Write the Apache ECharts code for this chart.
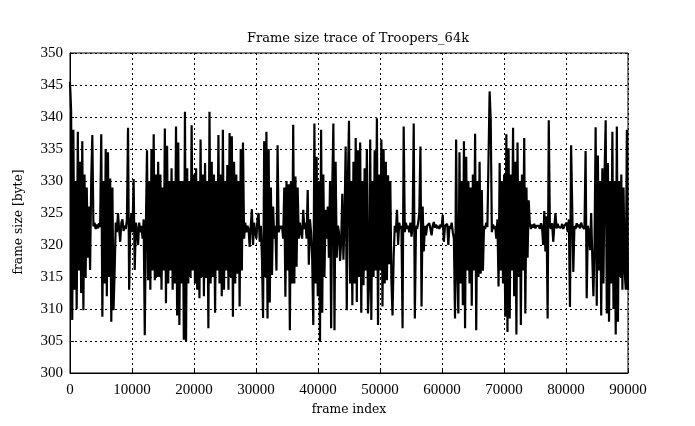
<!DOCTYPE html>
<html>
<head>
<meta charset="utf-8">
<script src="https://cdn.jsdelivr.net/npm/echarts@6/dist/echarts.min.js"></script>
<style>
html,body{margin:0;padding:0;background:#fff;}
#chart{width:695px;height:426px;}
</style>
</head>
<body>
<div id="chart"></div>
<script>
// Frame size samples (bytes), one value every frameStep frames
const frameStep = 180;
const frameSize = [
345.5,341,308.3,338,313,330,310,337.7,316,333,
312.5,336.2,309.8,331,315,329,318,326,316.1,330,
337.2,322.9,323.5,322.5,323.2,322.6,323.4,322.8,337.3,308.8,
330,314,335,312,334.5,315,330.4,308,329,309.8,
316,323.5,322,325,322.5,320.5,323.5,324,322.2,323,
322.5,324,338.3,313,323,325,322,330.3,316.1,323.5,
322.5,320,323.5,322,323,321,324,305.9,323,334.8,
314.5,330,313,335,316,337.3,314.5,331,315,333,
315,331,313,329,316,338.2,310.9,335.5,314,330,
316,332,313,330,314,338.5,309,336,307.5,330,
314,330,305.2,340.8,305,332,314,330,315,338.7,
316,331,314,332,313,330,311.7,336.5,315,331,
312,332.8,315,330,307,340.8,314,333,315,331,
309.4,330,316,337.2,314,331,312,338,313,330,
316,332.5,313,337.5,315,337,308.8,333,314,331,
315.5,330,310.4,335,316,336,321,323.5,322,323,
322.5,319.7,323,325.6,320,323.5,322,321,324,325,
320.5,323,318,308.6,336.2,315,337.7,308.5,335,311,
329,315.3,326,321,323,316,335.6,322,323,322.5,
323,321,329,311.9,330,316,329.5,306.7,330,314,
338.8,314,330.7,316.6,329,321,323.5,322,321,325.5,
322.5,323.5,321,328.6,316.9,324,322,318,307.5,339,
314,333.8,312,330,304.9,338,309.4,331,315,325.5,
321,326,318,330,307,329,339,306.7,333,318,
323,322,317.5,320.5,328,317.7,324,335.4,309.8,330,
339.4,314,330,310.6,333,314,336.7,311.1,334.8,315,
336,309.4,330,313.7,332,316,335,309.3,314,336.5,
308.3,330,315,334.8,316,339.8,307.5,331,316,336.5,
310.4,335,314,333,314.5,330.9,317,330,314.5,309,
318,323,322,325.5,320,323.5,322.5,323,307,338.5,
322,323.5,322.5,323,322,323.5,321.3,323,339,308.5,
323,322.5,323.5,325,335.4,310.4,326,319,323,321.5,
323,322.8,323.4,322.5,321.5,323,323.6,322.7,323.2,322.6,
323,322.5,323.2,322.8,324.7,320.5,323,322.7,323.3,320,
323,322.5,323.5,322,321,308.5,336.5,316,309.3,334.5,
314,330,310.6,336.2,307,333.8,316,330,314,329,
310.5,331,316,337.4,306.7,330,315,333,315.5,328.6,
316,323,322.5,323.5,322.8,323,344,339.5,322,323.2,
322.5,323,321,324,313.5,332.8,316,330,314,331,
308.8,337.3,306.4,335.1,308.5,331,316,338.3,312,333,
306,336,315,330,307.5,331,316,336.7,309.3,329,
318,327,323.5,322.5,323.2,322.7,323.3,322.6,323,322.8,
323,322.5,323.4,322.7,320,325.3,319,324.5,308.5,339.5,
323,322.5,323.4,320.5,323,325,322.6,323.3,322.8,323.1,
322.7,323.3,322.5,323,322.8,323.5,322,324,310.3,335.6,
326,315.8,323,322.5,323.4,322.8,323.2,322.6,323.5,322.9,
323,322.5,334.7,311.7,323,322,319.2,325,318,312,
320,338.4,310.5,334,316,330,309,332,314,331,
339.5,309.3,332.8,308,330,314,337.7,310,330,306,
338.5,308,330,315,331,313,329,316,313,338,
313
];
const titleText = 'Frame size trace of Troopers_64k';
const xName = 'frame index';
const yName = 'frame size [byte]';
const xRange = [0, 90000, 10000];
const yRange = [300, 350, 5];

const seriesData = frameSize.map((v, i) => [i * frameStep, v]);
const textFont = "'DejaVu Serif','Liberation Serif',serif";
const tickFont = "'Liberation Serif','DejaVu Serif',serif";

const chart = echarts.init(document.getElementById('chart'), null, {renderer: 'canvas'});
chart.setOption({
  animation: false,
  backgroundColor: '#fff',
  title: {
    text: titleText,
    left: 353, top: 27, textAlign: 'center',
    textStyle: {fontFamily: textFont, fontSize: 13, fontWeight: 'normal', color: '#000'}
  },
  graphic: [{
    type: 'text',
    x: 19, y: 222,
    rotation: Math.PI / 2,
    style: {text: yName, fontFamily: textFont, fontSize: 12.3, fill: '#000', textAlign: 'center', textVerticalAlign: 'middle'}
  }],
  grid: {left: 70, right: 67, top: 53, bottom: 53, show: true, borderColor: '#000', borderWidth: 1, backgroundColor: 'transparent'},
  xAxis: {
    type: 'value', min: xRange[0], max: xRange[1], interval: xRange[2],
    name: xName, nameLocation: 'middle', nameGap: 31,
    nameTextStyle: {fontFamily: textFont, fontSize: 12.3, color: '#000'},
    axisLine: {show: true, lineStyle: {color: '#000', width: 1}},
    axisTick: {show: true, inside: true, length: 4, lineStyle: {color: '#000'}},
    axisLabel: {fontFamily: tickFont, fontSize: 15, color: '#000', margin: 10, formatter: v => String(v)},
    splitLine: {show: true, lineStyle: {color: '#000', type: [2, 3], width: 1}}
  },
  yAxis: {
    type: 'value', min: yRange[0], max: yRange[1], interval: yRange[2],
    axisLine: {show: true, lineStyle: {color: '#000', width: 1}},
    axisTick: {show: true, inside: true, length: 4, lineStyle: {color: '#000'}},
    axisLabel: {fontFamily: tickFont, fontSize: 15, color: '#000', margin: 7},
    splitLine: {show: true, lineStyle: {color: '#000', type: [2, 3], width: 1}}
  },
  series: [{
    type: 'line',
    data: seriesData,
    showSymbol: false,
    sampling: false,
    lineStyle: {color: '#000', width: 2.2},
    z: 3
  }]
});
</script>
</body>
</html>
